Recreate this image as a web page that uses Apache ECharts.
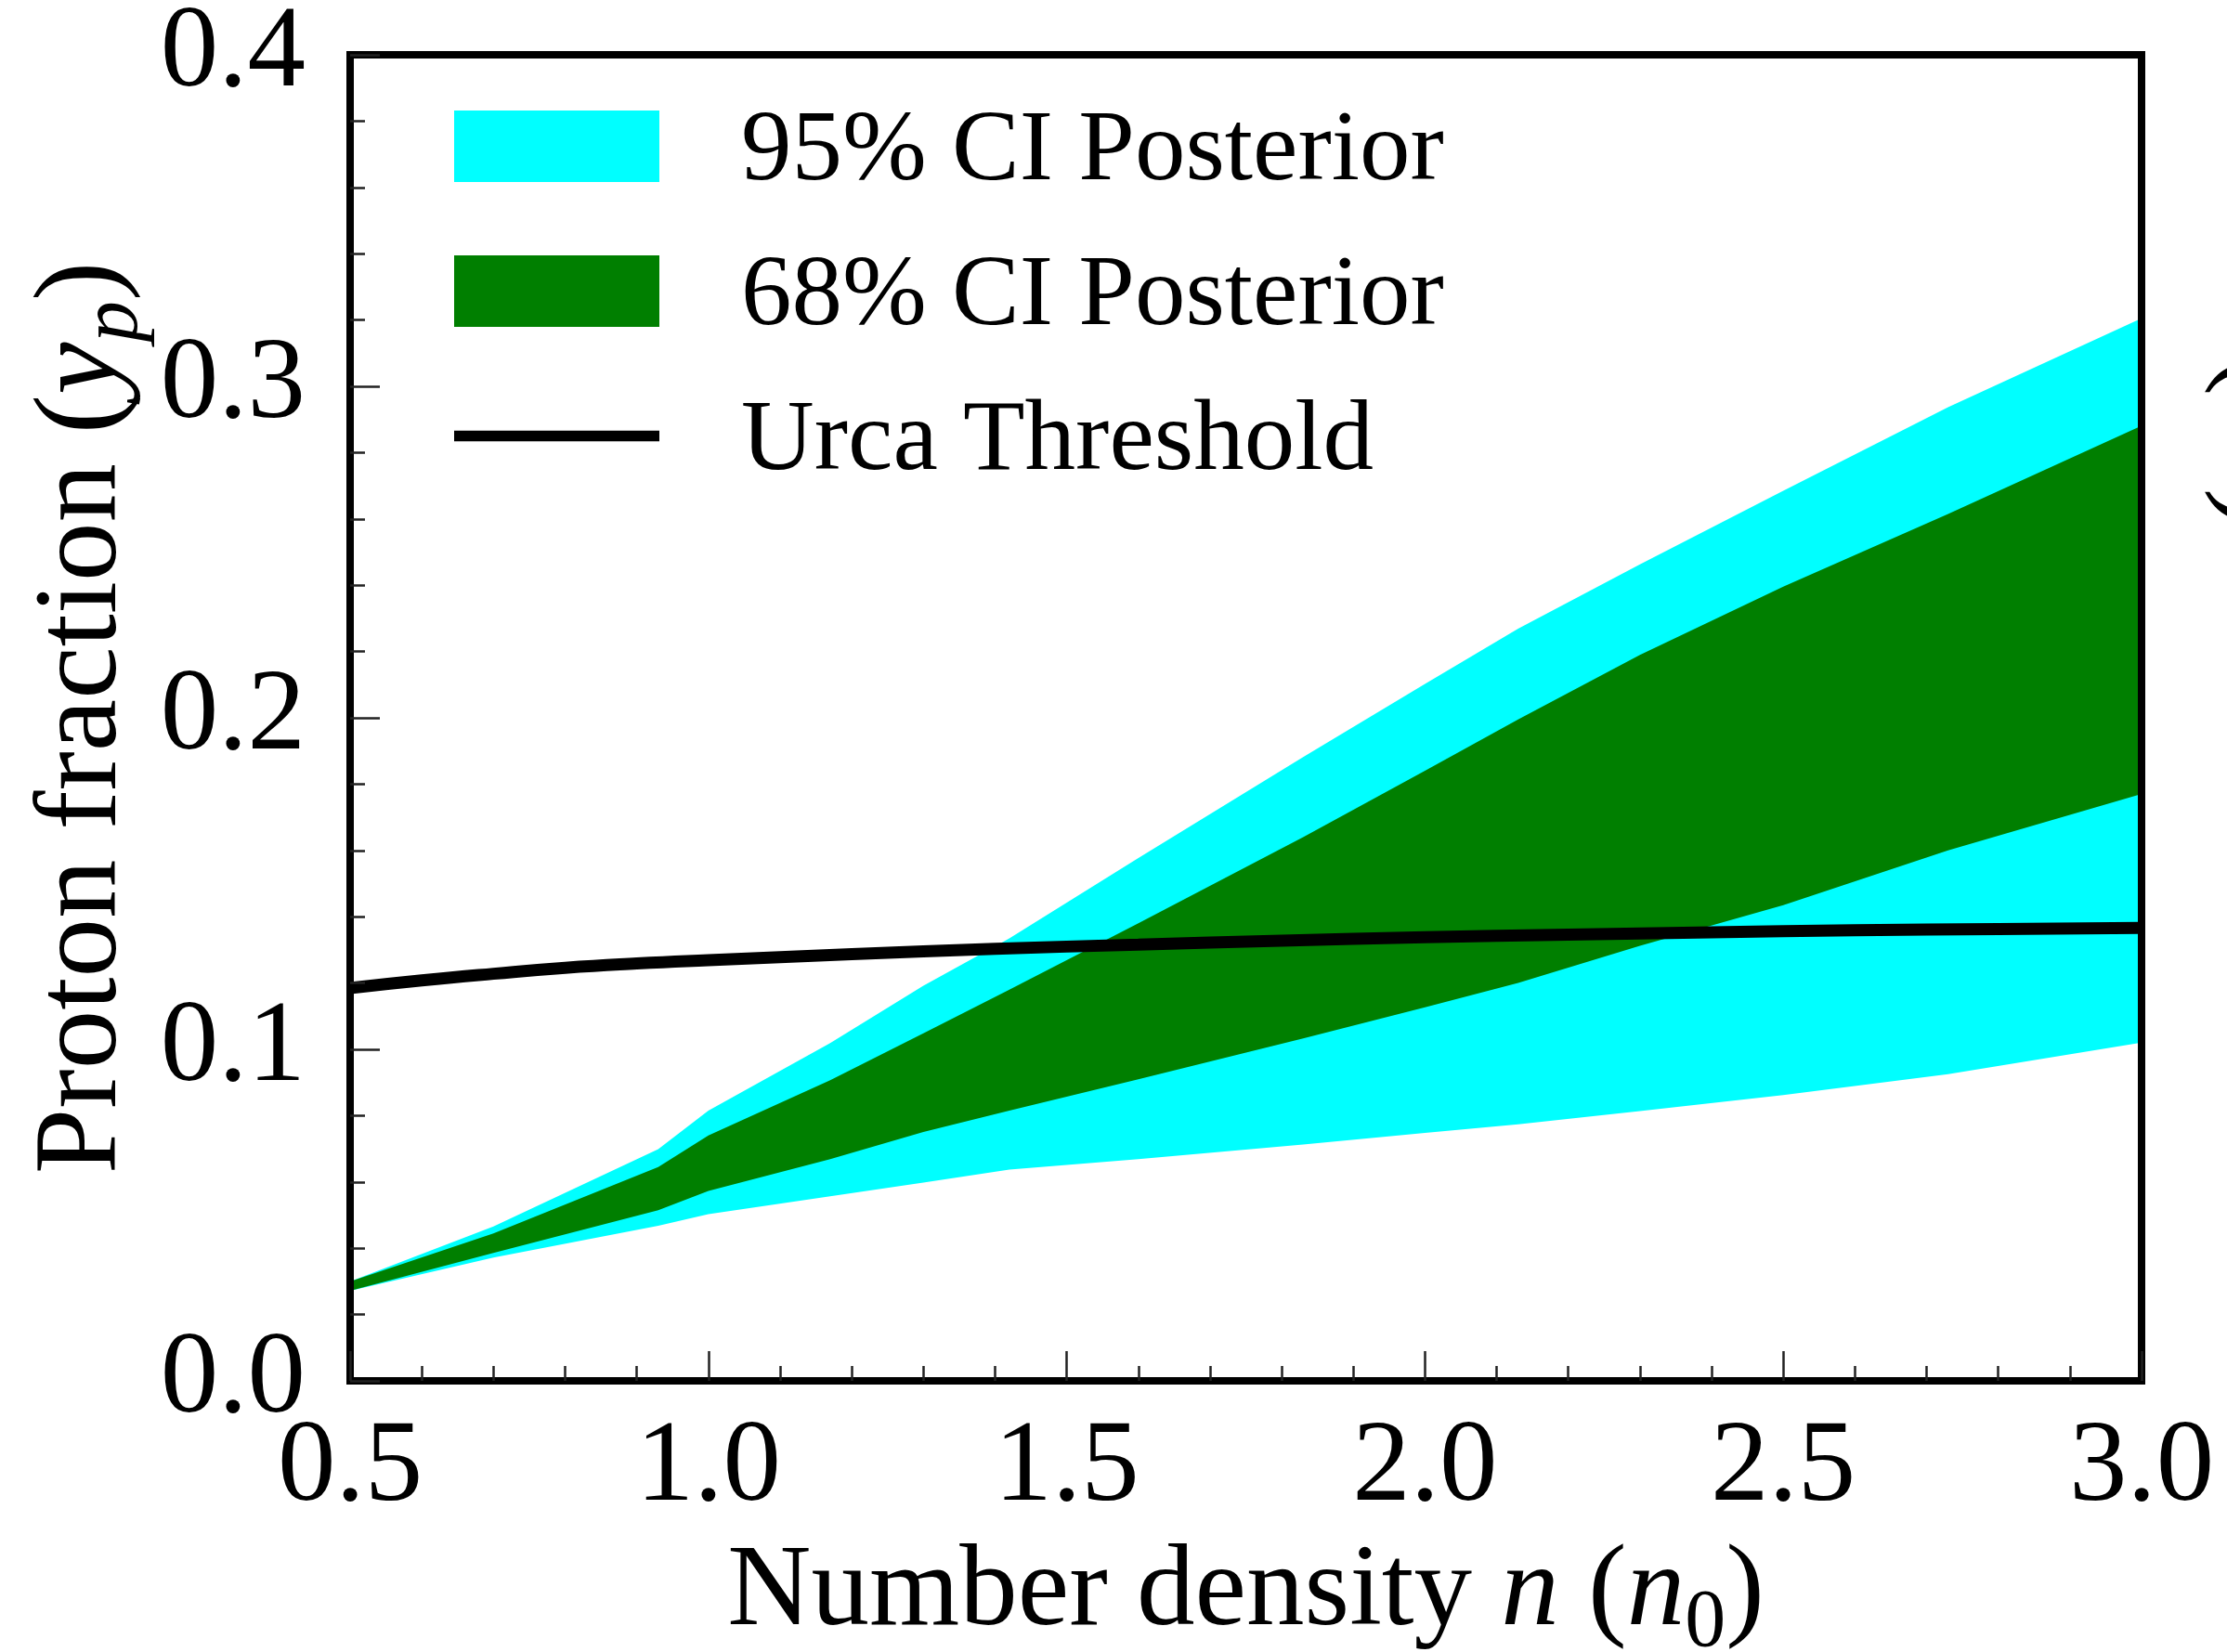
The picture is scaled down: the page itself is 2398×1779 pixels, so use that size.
<!DOCTYPE html>
<html><head><meta charset="utf-8">
<script src="https://cdn.jsdelivr.net/npm/echarts@6/dist/echarts.min.js"></script>
<style>html,body{margin:0;padding:0;background:#fff}#c{width:2398px;height:1779px}</style>
</head><body><div id="c"></div>
<script>
// Number density n (n0) grid for the credible bands
const densityN   = [0.5, 0.7, 0.93, 1.0, 1.17, 1.3, 1.42, 1.6, 1.83, 2.0, 2.13, 2.3, 2.5, 2.73, 3.0];
const ci95Upper  = [0.030, 0.0466, 0.0699, 0.0815, 0.1019, 0.1192, 0.1335, 0.1577, 0.1882, 0.2102, 0.2269, 0.2463, 0.2685, 0.2937, 0.3205];
const ci95Lower  = [0.0272, 0.0372, 0.0468, 0.0503, 0.0557, 0.0598, 0.0637, 0.0669, 0.0713, 0.0748, 0.0774, 0.0814, 0.0862, 0.0925, 0.1020];
const ci68Upper  = [0.030, 0.0445, 0.0645, 0.0740, 0.0907, 0.1048, 0.1180, 0.1380, 0.1640, 0.1840, 0.1995, 0.2190, 0.2396, 0.2615, 0.2881];
const ci68Lower  = [0.0272, 0.0386, 0.0515, 0.0573, 0.0669, 0.0751, 0.0815, 0.0910, 0.1033, 0.1127, 0.1200, 0.1312, 0.1435, 0.1600, 0.1770];
// Urca threshold curve
const urcaN = [0.5, 0.6, 0.7, 0.8, 0.9, 1.0, 1.2, 1.4, 1.6, 1.8, 2.0, 2.2, 2.4, 2.6, 2.8, 3.0];
const urcaY = [0.1185, 0.1208, 0.1228, 0.1246, 0.1259, 0.1269, 0.1287, 0.1303, 0.1316, 0.1328, 0.1338, 0.1346, 0.1353, 0.1359, 0.1363, 0.1366];
const seriesNames = ['95% CI Posterior', '68% CI Posterior', 'Urca Threshold'];

const FONT = 'Liberation Serif';
const chart = echarts.init(document.getElementById('c'), null, {renderer: 'canvas'});

function band(name, color, lower, upper) {
  return {
    type: 'custom', name: name, coordinateSystem: 'cartesian2d',
    silent: true, itemStyle: {color: color}, z: 2,
    encode: {x: 0, y: [1, 2]},
    data: densityN.map((n, i) => [n, lower[i], upper[i]]),
    renderItem: function (params, api) {
      if (params.dataIndex !== 0) return null;
      const pts = [];
      for (let i = 0; i < densityN.length; i++) pts.push(api.coord([densityN[i], upper[i]]));
      for (let i = densityN.length - 1; i >= 0; i--) pts.push(api.coord([densityN[i], lower[i]]));
      return {type: 'polygon', shape: {points: pts}, style: {fill: color, stroke: null}};
    }
  };
}

function richFor(size) {
  const sub = Math.round(size * 0.7);
  return {
    r: {fontFamily: FONT, fontSize: size, color: '#000', lineHeight: 140},
    i: {fontFamily: FONT, fontSize: size, fontStyle: 'italic', color: '#000', lineHeight: 140},
    s: {fontFamily: FONT, fontSize: sub, color: '#000', lineHeight: 74, padding: [66, 0, 0, 0]},
    si: {fontFamily: FONT, fontSize: sub, fontStyle: 'italic', color: '#000', lineHeight: 74, padding: [66, 0, 0, 0]}
  };
}

const tickStyle = {color: '#222', width: 2.5};
const axisLineStyle = {color: '#000', width: 8, cap: 'square'};

chart.setOption({
  animation: false,
  backgroundColor: '#fff',
  grid: {left: 377, right: 92, top: 59, bottom: 292, containLabel: false, outerBoundsMode: 'none'},
  legend: {
    orient: 'vertical', left: 489, top: 96, padding: 0,
    itemWidth: 221, itemHeight: 77, itemGap: 33,
    selectedMode: false, symbolKeepAspect: true,
    formatter: name => '{t|' + name + '}',
    textStyle: {
      fontFamily: FONT, fontSize: 109, color: '#000',
      rich: {t: {fontFamily: FONT, fontSize: 109, color: '#000', lineHeight: 111, padding: [14, 0, 0, 83]}}
    },
    data: [
      {name: seriesNames[0], icon: 'rect'},
      {name: seriesNames[1], icon: 'rect'},
      {name: seriesNames[2], icon: 'path://M0,0L232,0L232,12L0,12Z'}
    ]
  },
  xAxis: [{
    type: 'value', min: 0.5, max: 3.0, interval: 0.5, z: 10,
    name: '{r|Number density }{i|n}{r| (}{i|n}{s|0}{r|)}',
    nameLocation: 'middle', nameGap: 159, nameMoveOverlap: false,
    nameTextStyle: {rich: richFor(125)},
    axisLine: {show: true, onZero: false, lineStyle: axisLineStyle},
    axisTick: {show: true, inside: true, length: 32, lineStyle: tickStyle},
    minorTick: {show: true, splitNumber: 5, length: 16, lineStyle: tickStyle},
    splitLine: {show: false},
    axisLabel: {fontFamily: FONT, fontSize: 125, color: '#000', margin: 33,
      formatter: v => v.toFixed(1)}
  }, {
    type: 'value', position: 'top', min: 0.5, max: 3.0, interval: 0.5, z: 10,
    axisLine: {show: true, onZero: false, lineStyle: axisLineStyle},
    axisTick: {show: false}, axisLabel: {show: false}, splitLine: {show: false}
  }],
  yAxis: [{
    type: 'value', min: 0, max: 0.4, interval: 0.1, z: 10,
    name: '{r|Proton fraction (}{i|y}{si|p}{r|)}',
    nameLocation: 'middle', nameGap: 216, nameMoveOverlap: false,
    nameTextStyle: {rich: richFor(127)},
    axisLine: {show: true, onZero: false, lineStyle: axisLineStyle},
    axisTick: {show: true, inside: true, length: 32, lineStyle: tickStyle},
    minorTick: {show: true, splitNumber: 5, length: 16, lineStyle: tickStyle},
    splitLine: {show: false},
    axisLabel: {fontFamily: FONT, fontSize: 125, color: '#000', margin: 48,
      formatter: v => v.toFixed(1)}
  }, {
    type: 'value', position: 'right', min: 0, max: 0.4, interval: 0.1, z: 10,
    axisLine: {show: true, onZero: false, lineStyle: axisLineStyle},
    axisTick: {show: false}, axisLabel: {show: false}, splitLine: {show: false}
  }],
  graphic: [{
    type: 'text', x: 2428, y: 476, rotation: Math.PI / 2, silent: true,
    style: {text: '{r|(}{i|y}{si|p}{r|)}', rich: richFor(125), align: 'center', verticalAlign: 'middle'}
  }],
  series: [
    band(seriesNames[0], '#00ffff', ci95Lower, ci95Upper),
    band(seriesNames[1], '#007f00', ci68Lower, ci68Upper),
    {
      type: 'line', name: seriesNames[2], z: 5,
      data: urcaN.map((n, i) => [n, urcaY[i]]),
      symbol: 'none', showSymbol: false, smooth: true, silent: true,
      lineStyle: {color: '#000', width: 13},
      itemStyle: {color: '#000'}
    }
  ]
});
</script>
</body></html>
